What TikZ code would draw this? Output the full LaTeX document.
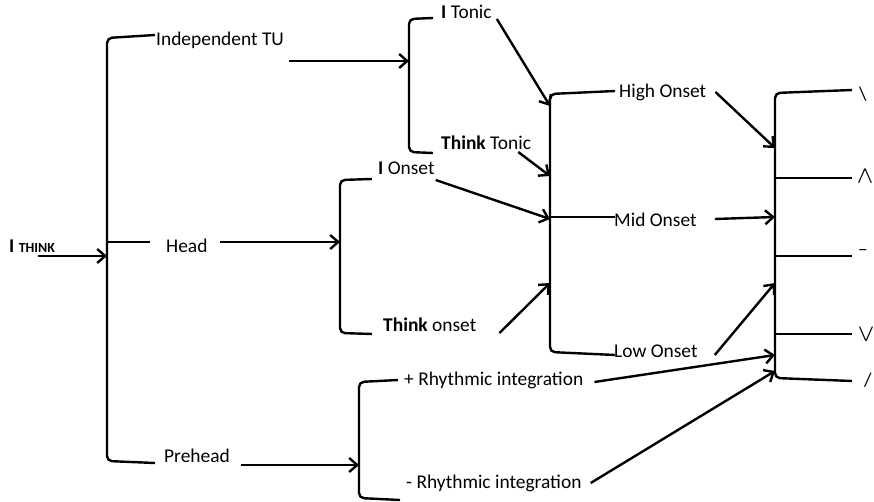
\documentclass[tikz,border=0pt]{standalone}
\usepackage{fontspec}
\setmainfont{Carlito}
\usetikzlibrary{arrows.meta}

\begin{document}
\begin{tikzpicture}[x=1bp,y=-1bp,line width=2.4bp]

      \useasboundingbox (0,0) rectangle (874,502);

      \begin{scope}[every node/.style={anchor=base west,inner sep=0pt,font=\fontsize{19.5}{22}\selectfont}]
        \node (ithink)     at (8,253)   {\textbf{I {\fontsize{14}{16}\selectfont THINK}}};
        \node (indep)      at (155,46)  {Independent TU};
        \node (head)       at (165,253) {Head};
        \node (prehead)    at (163,462) {Prehead};
        \node (itonic)     at (440,19)  {\textbf{I} Tonic};
        \node (thinktonic) at (440,150) {\textbf{Think} Tonic};
        \node (ionset)     at (377,175) {\textbf{I} Onset};
        \node (thinkonset) at (382,332) {\textbf{Think} onset};
        \node (plusrhy)    at (403,385) {+ Rhythmic integration};
        \node (minusrhy)   at (405,488) {- Rhythmic integration};
        \node (high)       at (618,98)  {High Onset};
        \node (mid)        at (613,227) {Mid Onset};
        \node (low)        at (613,357) {Low Onset};
        \node (fall)       at (858,101) {\textbackslash};
        \node (risefall)   at (857,183) {/\kern-1bp\textbackslash};
        \node (level)      at (857,256) {–};
        \node (fallrise)   at (858,341) {\textbackslash\kern-1bp/};
        \node (rise)       at (863,386) {/};
      \end{scope}

      % brackets
      \begin{scope}[rounded corners=5bp]
        \draw (155,35)  -- (107,38)  -- (107,461) -- (155,463);
        \draw (433,18)  -- (409,19)  -- (409,152) -- (433,153);
        \draw (372,179) -- (340,180) -- (340,333) -- (372,334);
        \draw (398,380) -- (359,382) -- (359,498) -- (400,500);
        \draw (615,91)  -- (550,94)  -- (550,352) -- (615,355);
        \draw (852,90)  -- (775,93)  -- (775,378) -- (852,381);
      \end{scope}
      \draw (107,242) -- (150,242);
      \draw (550,217) -- (615,217);
      \foreach \y in {178,256,334}
        \draw (775,\y) -- (852,\y);

      \coordinate (b1)  at (107,256);
      \coordinate (b2)  at (409,61);
      \coordinate (b3)  at (340,242);
      \coordinate (b4)  at (359,465);
      \coordinate (b5a) at (550,106);
      \coordinate (b5b) at (550,176);
      \coordinate (b5c) at (550,219);
      \coordinate (b5d) at (550,283);
      \coordinate (b6a) at (775,148);
      \coordinate (b6b) at (775,217);
      \coordinate (b6c) at (775,283);
      \coordinate (b6d) at (775,355);
      \coordinate (b6e) at (775,371);

      \begin{scope}[every edge/.style={draw,-{Straight Barb[length=8bp,width=14bp]}}]
        \path ([shift={(30,3)}]ithink.base west)       edge (b1);
        \path ([shift={(4,15)}]indep.base east)        edge (b2);
        \path ([shift={(11,-11)}]head.base east)       edge (b3);
        \path ([shift={(10,3)}]prehead.base east)      edge (b4);
        \path ([shift={(4,0)}]itonic.base east)        edge (b5a);
        \path ([shift={(-14,2)}]thinktonic.base east)  edge (b5b);
        \path ([shift={(0,5)}]ionset.base east)        edge (b5c);
        \path ([shift={(22,1)}]thinkonset.base east)   edge (b5d);
        \path ([shift={(8,-6)}]high.base east)         edge (b6a);
        \path ([shift={(17,-8)}]mid.base east)         edge (b6b);
        \path ([shift={(16,-2)}]low.base east)         edge (b6c);
        \path ([shift={(10,-3)}]plusrhy.base east)     edge (b6d);
        \path ([shift={(8,-5)}]minusrhy.base east)     edge (b6e);
      \end{scope}

    \end{tikzpicture}
\end{document}
